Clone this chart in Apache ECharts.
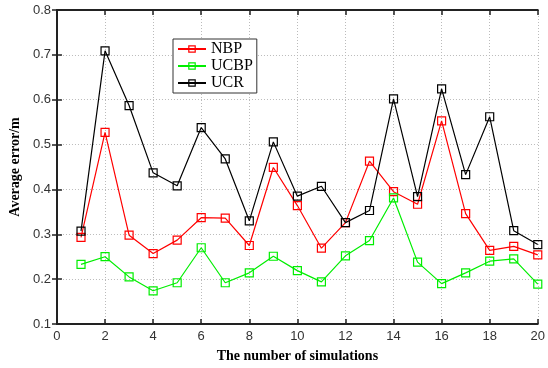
<!DOCTYPE html>
<html><head><meta charset="utf-8">
<script src="https://cdn.jsdelivr.net/npm/echarts@6/dist/echarts.min.js"></script>
<style>html,body{margin:0;padding:0;background:#fff}#c{width:548px;height:368px}</style>
</head><body><div id="c"></div>
<script>
var xs = [1,2,3,4,5,6,7,8,9,10,11,12,13,14,15,16,17,18,19,20];
var nbp  = [0.293,0.527,0.298,0.257,0.287,0.337,0.336,0.275,0.449,0.364,0.269,0.326,0.463,0.395,0.367,0.553,0.346,0.264,0.273,0.254];
var ucbp = [0.233,0.250,0.205,0.174,0.192,0.270,0.192,0.214,0.251,0.219,0.194,0.252,0.286,0.381,0.238,0.190,0.214,0.240,0.245,0.189];
var ucr  = [0.307,0.709,0.587,0.437,0.408,0.538,0.468,0.330,0.506,0.385,0.407,0.326,0.353,0.602,0.384,0.624,0.433,0.562,0.308,0.277];
var names = ['NBP','UCBP','UCR'];
var colors = ['#ff0000','#00ee00','#000000'];
var vals = [nbp, ucbp, ucr];

var chart = echarts.init(document.getElementById('c'), null, {renderer:'canvas'});
var axisLine = {show:true, lineStyle:{color:'#222', width:2}};
var grid = {show:true, lineStyle:{color:'#bbb', type:[1,2], width:1}};
var tick = {show:true, inside:true, length:5, lineStyle:{color:'#222', width:1.5}};
var series = names.map(function(n,i){
  return {
    name:n, type:'line', xAxisIndex:0, yAxisIndex:0,
    data: xs.map(function(x,j){return [x, vals[i][j]];}),
    symbol:'rect', symbolSize:8,
    lineStyle:{color:colors[i], width:1.2},
    itemStyle:{color:'rgba(255,255,255,0)', borderColor:colors[i], borderWidth:1.2},
    emphasis:{disabled:true}, animation:false
  };
});
chart.setOption({
  animation:false,
  backgroundColor:'#fff',
  grid:{left:53, right:7, top:10, bottom:44},
  legend:{
    data:names.map(function(n,i){return {name:n, itemStyle:{color:'rgba(255,255,255,0)', borderColor:colors[i], borderWidth:1.2}};}),
    orient:'vertical', left:173, top:39,
    itemWidth:28, itemHeight:8, itemGap:1,
    padding:[2,4,2,4],
    borderColor:'#333', borderWidth:1, backgroundColor:'#fff',
    textStyle:{fontFamily:'Liberation Serif', fontSize:16, color:'#000'}
  },
  xAxis:[{
    type:'value', min:0, max:20, interval:2,
    name:'The number of simulations', nameLocation:'middle', nameGap:25,
    nameTextStyle:{fontFamily:'Liberation Serif', fontWeight:'bold', fontSize:14, color:'#000'},
    axisLine:axisLine, axisTick:tick,
    axisLabel:{fontFamily:'Liberation Sans', fontSize:13, color:'#333', margin:6},
    splitLine:grid
  },{
    type:'value', position:'top', min:0, max:20, interval:2,
    axisLine:axisLine, axisTick:tick,
    axisLabel:{show:false}, splitLine:{show:false}
  }],
  yAxis:[{
    type:'value', min:0.1, max:0.8, interval:0.1,
    name:'Average error/m', nameLocation:'middle', nameGap:33,
    nameTextStyle:{fontFamily:'Liberation Serif', fontWeight:'bold', fontSize:14, color:'#000'},
    axisLine:axisLine, axisTick:tick,
    axisLabel:{fontFamily:'Liberation Sans', fontSize:13, color:'#333', margin:6, formatter:function(v){return v.toFixed(1);}},
    splitLine:grid
  },{
    type:'value', position:'right', min:0.1, max:0.8, interval:0.1,
    axisLine:axisLine, axisTick:tick,
    axisLabel:{show:false}, splitLine:{show:false}
  }],
  series:series
});
</script></body></html>
